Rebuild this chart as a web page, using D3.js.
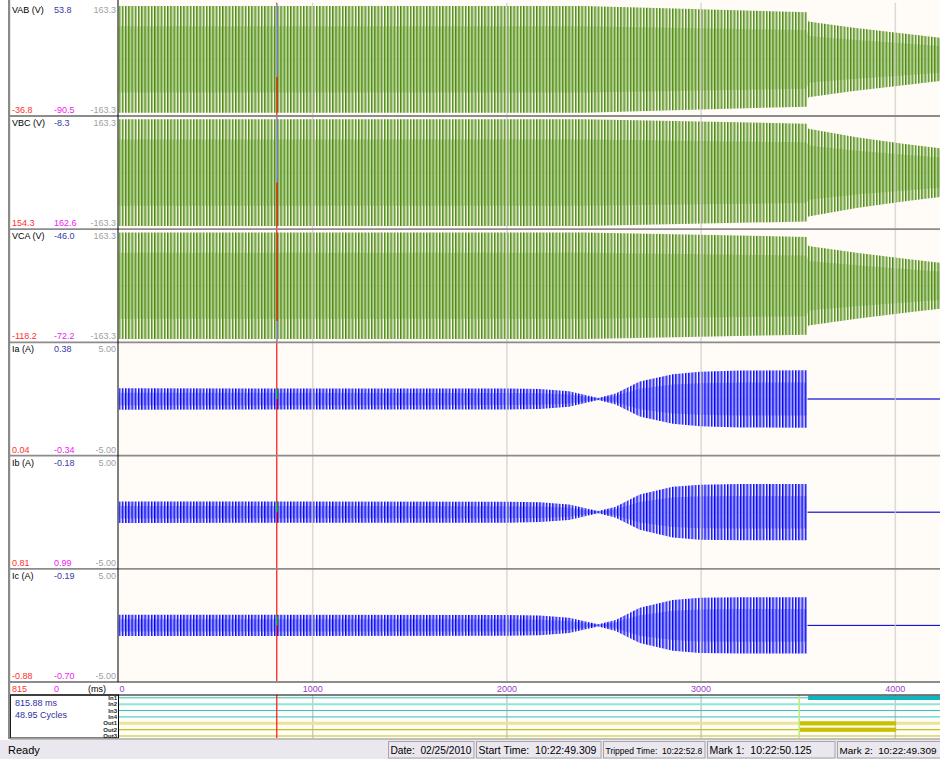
<!DOCTYPE html>
<html>
<head>
<meta charset="utf-8">
<script src="https://cdn.jsdelivr.net/npm/d3@7"></script>
<style>
  body { margin: 0; background: #fff; }
  svg { display: block; font-family: "Liberation Sans", Arial, sans-serif; }
</style>
</head>
<body>
<svg id="chart" width="940" height="759"></svg>
<script>
// left column readouts
const channelNames = ['VAB (V)', 'VBC (V)', 'VCA (V)', 'Ia (A)', 'Ib (A)', 'Ic (A)'];
const channelRange = [163.3, 163.3, 163.3, 5, 5, 5];
const rangeTop = ['163.3', '163.3', '163.3', '5.00', '5.00', '5.00'];
const rangeBottom = ['-163.3', '-163.3', '-163.3', '-5.00', '-5.00', '-5.00'];
const cursorValues = ['53.8', '-8.3', '-46.0', '0.38', '-0.18', '-0.19'];
const mark1Values = ['-36.8', '154.3', '-118.2', '0.04', '0.81', '-0.88'];
const mark2Values = ['-90.5', '162.6', '-72.2', '-0.34', '0.99', '-0.70'];

// waveform peak envelopes: [ms, peak]
const vabEnvelope = [[0, 158], [2400, 158], [3545, 140], [3552, 112], [3765, 95], [4020, 78], [4230, 64]];
const vbcEnvelope = [[0, 158], [2400, 158], [3545, 145], [3552, 130], [3800, 105], [4050, 85], [4230, 72]];
const vcaEnvelope = [[0, 158], [2400, 158], [3545, 145], [3552, 118], [3800, 98], [4050, 80], [4230, 68]];
const iaEnvelope = [[0, 0.97], [2000, 0.95], [2170, 0.9], [2320, 0.7], [2470, 0.1], [2560, 0.5], [2684, 1.59], [2854, 2.25], [2993, 2.47], [3199, 2.59], [3545, 2.6]];
const ibEnvelope = [[0, 0.97], [2000, 0.95], [2170, 0.9], [2320, 0.7], [2470, 0.1], [2560, 0.5], [2684, 1.6], [2854, 2.3], [2993, 2.5], [3199, 2.55], [3545, 2.55]];
const icEnvelope = [[0, 0.97], [2000, 0.95], [2170, 0.9], [2320, 0.7], [2470, 0.1], [2560, 0.5], [2684, 1.6], [2854, 2.3], [2993, 2.5], [3199, 2.55], [3545, 2.55]];
const currentTail = [[3549, 0], [4230, 0]];

// sample highlighted by the cursor in each channel: [from, to]
const cursorHighlight = [[163.3, -52], [163.3, -29], [-104, -163.3], [0.9, 0], [0.9, 0], [0.9, 0]];

// time axis
const timeTicks = [0, 1000, 2000, 3000, 4000];
const viewEndMs = 4230;
const cursorMs = 815;
const cursorReadout = ['815.88 ms', '48.95 Cycles'];
const tripMs = 3505;
const cycleMs = 1000 / 60;

// digital channels
const digitalNames = ['In1', 'In2', 'In3', 'In4', 'Out1', 'Out2', 'Out3'];
const digitalOn = [[[3551, 4230]], [], [], [], [[3505, 4004]], [[3505, 4004]], []];

// status bar cells
const statusText = ['Date:  02/25/2010', 'Start Time:  10:22:49.309', 'Tripped Time:  10:22:52.8', 'Mark 1:  10:22:50.125', 'Mark 2:  10:22:49.309'];
const statusLeft = [388, 476, 603, 707, 837];
const statusRight = [475, 602, 706, 836, 942];

const envelopes = [vabEnvelope, vbcEnvelope, vcaEnvelope, iaEnvelope, ibEnvelope, icEnvelope];

const W = 940, H = 759;
const plotLeft = 118.5;
const panelTop0 = 2.8, panelH = 113.2;
const axisTop = panelTop0 + panelH * 6;   // ~682
const digTop = 695, digBottom = 738;

const svg = d3.select('#chart');
const defs = svg.append('defs');

const x = d3.scaleLinear().domain([0, viewEndMs]).range([plotLeft, W]);
const period = x(cycleMs) - x(0);

function stripes(id, dark, light) {
  const p = defs.append('pattern')
    .attr('id', id)
    .attr('patternUnits', 'userSpaceOnUse')
    .attr('x', x(0))
    .attr('y', 0)
    .attr('width', period)
    .attr('height', 20);
  p.append('rect').attr('width', 1.4).attr('height', 20).attr('fill', dark);
  p.append('rect').attr('x', 1.4).attr('width', 0.9).attr('height', 20).attr('fill', light);
}
stripes('vStripe', '#4a880e', '#a6c782');
stripes('iStripe', '#0000f8', '#8a8aff');

defs.append('clipPath').attr('id', 'plotClip')
  .append('rect').attr('x', plotLeft).attr('y', 0).attr('width', W - plotLeft).attr('height', H);

// backgrounds
svg.append('rect').attr('width', W).attr('height', H).attr('fill', '#fff');
svg.append('rect')
  .attr('x', plotLeft).attr('y', 0)
  .attr('width', W - plotLeft).attr('height', axisTop)
  .attr('fill', '#fffbf6');
svg.append('rect')
  .attr('x', plotLeft).attr('y', digTop)
  .attr('width', W - plotLeft).attr('height', digBottom - digTop)
  .attr('fill', '#fffdf8');

const plot = svg.append('g').attr('clip-path', 'url(#plotClip)');

envelopes.forEach(function (env, i) {
  const top = panelTop0 + panelH * i;
  const y = d3.scaleLinear()
    .domain([-channelRange[i], channelRange[i]])
    .range([top + panelH - 1.5, top + 1.5]);
  const isVolt = i < 3;
  const band = isVolt ? 0.62 : 0.58;

  const outer = d3.area()
    .x(d => x(d[0]))
    .y0(d => y(-d[1]))
    .y1(d => y(d[1]));
  const inner = d3.area()
    .x(d => x(d[0]))
    .y0(d => y(-d[1] * band))
    .y1(d => y(d[1] * band));

  // center line
  plot.append('line')
    .attr('x1', plotLeft).attr('x2', W)
    .attr('y1', y(0)).attr('y2', y(0))
    .attr('stroke', '#b4b0ac').attr('stroke-width', 1);

  plot.append('path')
    .attr('d', inner(env))
    .attr('fill', isVolt ? '#b5d292' : '#9c9cff')
    .attr('opacity', 0.85);
  plot.append('path')
    .attr('d', outer(env))
    .attr('fill', isVolt ? 'url(#vStripe)' : 'url(#iStripe)');

  if (!isVolt) {
    plot.append('path')
      .attr('d', d3.line().x(d => x(d[0])).y(d => y(d[1]))(currentTail))
      .attr('stroke', '#0000f0').attr('stroke-width', 1).attr('fill', 'none');
  }

  // 1000 ms grid
  plot.selectAll(null).data(timeTicks.slice(1)).enter().append('line')
    .attr('x1', d => x(d)).attr('x2', d => x(d))
    .attr('y1', top).attr('y2', top + panelH)
    .attr('stroke', '#cfcbc8').attr('stroke-width', 1.5).attr('opacity', 0.7);

  // cursor
  plot.append('line')
    .attr('x1', x(cursorMs)).attr('x2', x(cursorMs))
    .attr('y1', top).attr('y2', top + panelH)
    .attr('stroke', '#ff1010').attr('stroke-width', 1.2);
  plot.append('line')
    .attr('x1', x(cursorMs)).attr('x2', x(cursorMs))
    .attr('y1', y(cursorHighlight[i][0])).attr('y2', y(cursorHighlight[i][1]))
    .attr('stroke', isVolt ? '#78aef0' : '#20d020').attr('stroke-width', 1.4);

  // labels
  const lab = svg.append('g').attr('font-size', 9);
  lab.append('text').attr('x', 12).attr('y', top + 10).text(channelNames[i]).attr('fill', '#000');
  lab.append('text').attr('x', 54).attr('y', top + 10).text(cursorValues[i]).attr('fill', '#3838a8');
  lab.append('text').attr('x', 116).attr('y', top + 10).attr('text-anchor', 'end').text(rangeTop[i]).attr('fill', '#a0a0a0');
  lab.append('text').attr('x', 12).attr('y', top + panelH - 3).text(mark1Values[i]).attr('fill', '#ff3030');
  lab.append('text').attr('x', 54).attr('y', top + panelH - 3).text(mark2Values[i]).attr('fill', '#f020f0');
  lab.append('text').attr('x', 116).attr('y', top + panelH - 3).attr('text-anchor', 'end').text(rangeBottom[i]).attr('fill', '#a0a0a0');
});

// panel separators
d3.range(1, 7).forEach(function (k) {
  svg.append('line')
    .attr('x1', 10).attr('x2', W)
    .attr('y1', panelTop0 + panelH * k).attr('y2', panelTop0 + panelH * k)
    .attr('stroke', '#8c8c8c').attr('stroke-width', 1.8);
});

// label column divider
svg.append('line')
  .attr('x1', plotLeft - 0.5).attr('x2', plotLeft - 0.5)
  .attr('y1', 0).attr('y2', axisTop)
  .attr('stroke', '#000').attr('stroke-width', 1);

// time axis row
const axisY = axisTop + 10;
svg.append('text').attr('x', 12).attr('y', axisY).attr('font-size', 9).attr('fill', '#ff3030').text(cursorMs);
svg.append('text').attr('x', 54).attr('y', axisY).attr('font-size', 9).attr('fill', '#f020f0').text('0');
svg.append('text').attr('x', 88).attr('y', axisY).attr('font-size', 9).attr('fill', '#000').text('(ms)');
svg.selectAll('.tick').data(timeTicks).enter().append('text')
  .attr('class', 'tick')
  .attr('x', d => d === 0 ? x(d) + 1 : x(d))
  .attr('y', axisY)
  .attr('text-anchor', d => d === 0 ? 'start' : 'middle')
  .attr('font-size', 9)
  .attr('fill', '#9a3cc8')
  .text(d => d);

// digital channels
const dy = d3.scalePoint().domain(digitalNames).range([697.8, 736]);
const digColor = ['#28c4c4', '#8ae6e6', '#28c4c4', '#28c4c4', '#ebe397', '#c8c018', '#c8c018'];
const digWidth = [1, 2, 1, 1, 3, 1.2, 1.2];
const onColor = ['#10b4be', '#10b4be', '#10b4be', '#10b4be', '#c8c000', '#c8c000', '#c8c000'];

const dig = svg.append('g').attr('clip-path', 'url(#plotClip)');
dig.selectAll(null).data(timeTicks.slice(1)).enter().append('line')
  .attr('x1', d => x(d)).attr('x2', d => x(d))
  .attr('y1', digTop).attr('y2', digBottom)
  .attr('stroke', '#cfcbc8').attr('stroke-width', 1.5);
digitalNames.forEach(function (n, k) {
  dig.append('line')
    .attr('x1', plotLeft).attr('x2', W)
    .attr('y1', dy(n)).attr('y2', dy(n))
    .attr('stroke', digColor[k]).attr('stroke-width', digWidth[k]);
  digitalOn[k].forEach(function (seg) {
    dig.append('rect')
      .attr('x', x(seg[0])).attr('y', dy(n) - 2)
      .attr('width', x(seg[1]) - x(seg[0])).attr('height', 4.2)
      .attr('fill', onColor[k]);
  });
});
dig.append('line')
  .attr('x1', x(tripMs)).attr('x2', x(tripMs))
  .attr('y1', digTop).attr('y2', digBottom)
  .attr('stroke', '#b8ee78').attr('stroke-width', 1.5);
dig.append('line')
  .attr('x1', x(cursorMs)).attr('x2', x(cursorMs))
  .attr('y1', digTop).attr('y2', digBottom)
  .attr('stroke', '#ff1010').attr('stroke-width', 1.2);

svg.selectAll('.dname').data(digitalNames).enter().append('text')
  .attr('class', 'dname')
  .attr('x', 117).attr('y', d => dy(d) + 2.2)
  .attr('text-anchor', 'end')
  .attr('font-size', 6).attr('font-weight', 'bold')
  .attr('fill', '#222')
  .text(d => d);

svg.selectAll('.readout').data(cursorReadout).enter().append('text')
  .attr('class', 'readout')
  .attr('x', 15).attr('y', (d, k) => 706 + k * 12)
  .attr('font-size', 9).attr('fill', '#3030a0')
  .text(d => d);

// frame lines around the digital area
svg.append('line').attr('x1', 10).attr('x2', W).attr('y1', digTop).attr('y2', digTop).attr('stroke', '#000');
svg.append('rect').attr('x', 10.5).attr('y', digTop).attr('width', 108).attr('height', digBottom - digTop)
  .attr('fill', 'none').attr('stroke', '#000');
svg.append('line').attr('x1', 10).attr('x2', W).attr('y1', digBottom + 1).attr('y2', digBottom + 1)
  .attr('stroke', '#a8a8a8').attr('stroke-width', 1.5);

// window left edge
svg.append('rect').attr('x', 8).attr('y', 0).attr('width', 2.2).attr('height', digBottom + 1).attr('fill', '#8a8a8a');

// status bar
svg.append('rect').attr('x', 0).attr('y', 740).attr('width', W).attr('height', H - 740).attr('fill', '#ebe7ee');
svg.append('text').attr('x', 8).attr('y', 754).attr('font-size', 11).attr('fill', '#000').text('Ready');
statusText.forEach(function (t, k) {
  const cellW = Math.min(statusRight[k], W) - statusLeft[k];
  svg.append('rect')
    .attr('x', statusLeft[k] + 0.5).attr('y', 741.5)
    .attr('width', statusRight[k] - statusLeft[k] - 1.5).attr('height', 16.5)
    .attr('fill', 'none').attr('stroke', '#a8a4ac').attr('stroke-width', 1);
  const txt = svg.append('text')
    .attr('x', statusLeft[k] + 2.5).attr('y', 754)
    .attr('font-size', 10.5).attr('fill', '#000')
    .style('white-space', 'pre')
    .text(t);
  // shrink the font of texts that would run past their cell
  const natural = txt.node().getComputedTextLength();
  if (natural > cellW - 6) {
    txt.attr('font-size', 10.5 * (cellW - 6) / natural);
  }
});
</script>
</body>
</html>
